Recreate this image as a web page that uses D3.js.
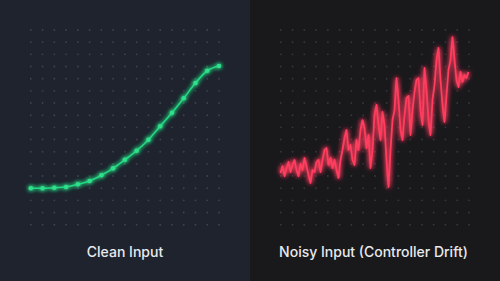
<!DOCTYPE html>
<html>
<head>
<meta charset="utf-8">
<script src="https://cdn.jsdelivr.net/npm/d3@7"></script>
<style>
  html, body { margin: 0; padding: 0; background: #1b1b1e; }
  svg { display: block; }
</style>
</head>
<body>
<div id="chart"></div>
<script>
// values, in grid-row units (0 = bottom dot row, 16 = top)
const panelTitles = ['Clean Input', 'Noisy Input (Controller Drift)'];

const cleanValues = [2.99, 2.99, 3.04, 3.10, 3.32, 3.59, 4.06, 4.63, 5.34,
    6.08, 6.98, 8.09, 9.20, 10.39, 11.64, 12.65, 13.04];

const noisyValues = [4.25, 4.82, 4.00, 4.66, 5.15, 4.33, 4.91, 5.32, 4.49, 4.00,
    4.99, 4.49, 5.48, 4.82, 4.08, 3.43, 4.49, 4.33, 5.15, 5.32,
    4.33, 5.32, 6.14, 6.30, 4.91, 5.48, 4.66, 5.32, 4.49, 3.84,
    5.32, 6.14, 7.12, 7.78, 6.14, 6.55, 5.32, 4.91, 6.96, 6.14,
    7.78, 8.60, 7.95, 6.30, 7.37, 4.66, 6.14, 9.01, 9.84, 8.19,
    6.96, 9.26, 8.19, 5.32, 3.10, 6.14, 8.60, 9.42, 12.05, 10.25,
    7.78, 6.96, 9.01, 10.41, 10.58, 7.37, 9.42, 10.90, 11.89, 12.05,
    9.42, 8.19, 12.88, 11.07, 8.60, 7.37, 10.25, 11.48, 13.53, 14.52,
    11.89, 9.84, 8.44, 10.66, 12.71, 13.53, 15.42, 13.53, 11.89, 11.31,
    12.55, 11.73, 12.30, 12.05, 12.55];

const gridCols = d3.range(17);
const gridRows = d3.range(17);

const W = 500, H = 281;

const svg = d3.select('#chart')
    .append('svg')
    .attr('width', W)
    .attr('height', H);

const defs = svg.append('defs');
function glow(id, sd) {
    const f = defs.append('filter')
        .attr('id', id)
        .attr('x', '-20%').attr('y', '-20%')
        .attr('width', '140%').attr('height', '140%');
    f.append('feGaussianBlur').attr('stdDeviation', sd).attr('result', 'blur');
    const m = f.append('feMerge');
    m.append('feMergeNode').attr('in', 'blur');
    m.append('feMergeNode').attr('in', 'blur');
    m.append('feMergeNode').attr('in', 'SourceGraphic');
}
glow('glowGreen', 2);
glow('glowRed', 2.5);

// panel backgrounds
svg.append('rect').attr('x', 0).attr('y', 0).attr('width', 250).attr('height', H).attr('fill', '#1e232d');
svg.append('rect').attr('x', 250).attr('y', 0).attr('width', 250).attr('height', H).attr('fill', '#19191c');

const y = d3.scaleLinear().domain([0, 16]).range([224.7, 30]);

function drawPanel(offset, dotColor) {
    const x = d3.scaleLinear().domain([0, 16]).range([offset + 30.8, offset + 219]);
    const g = svg.append('g');
    gridRows.forEach(r => {
        g.selectAll(null)
            .data(gridCols)
            .enter()
            .append('circle')
            .attr('cx', c => x(c))
            .attr('cy', y(r))
            .attr('r', 0.95)
            .attr('fill', dotColor);
    });
    return x;
}

// left: clean input
const xl = drawPanel(0, '#3c4250');
const cleanLine = d3.line()
    .x((d, i) => xl(i))
    .y(d => y(d))
    .curve(d3.curveMonotoneX);

const gl = svg.append('g').attr('filter', 'url(#glowGreen)');
gl.append('path')
    .datum(cleanValues)
    .attr('d', cleanLine)
    .attr('fill', 'none')
    .attr('stroke', '#25d882')
    .attr('stroke-width', 1.6);
gl.selectAll('circle.pt')
    .data(cleanValues)
    .enter()
    .append('circle')
    .attr('class', 'pt')
    .attr('cx', (d, i) => xl(i))
    .attr('cy', d => y(d))
    .attr('r', 2.3)
    .attr('fill', '#2ee08a');

// right: noisy input
const xr = drawPanel(250, '#36363b');
const xn = d3.scaleLinear().domain([0, noisyValues.length - 1]).range([280.5, 468.5]);
const noisyLine = d3.line()
    .x((d, i) => xn(i))
    .y(d => y(d));

svg.append('path')
    .datum(noisyValues)
    .attr('d', noisyLine)
    .attr('fill', 'none')
    .attr('stroke', '#ff3d5e')
    .attr('stroke-width', 1.8)
    .attr('stroke-linejoin', 'round')
    .attr('filter', 'url(#glowRed)');

// titles
svg.selectAll('text.title')
    .data(panelTitles)
    .enter()
    .append('text')
    .attr('class', 'title')
    .attr('x', (d, i) => i === 0 ? 125 : 373.5)
    .attr('y', 257)
    .attr('text-anchor', 'middle')
    .attr('fill', '#e8e9ec')
    .style('font-family', 'Inter, "Noto Sans", sans-serif')
    .style('font-size', '14px')
    .style('font-weight', 500)
    .text(d => d);
</script>
</body>
</html>
